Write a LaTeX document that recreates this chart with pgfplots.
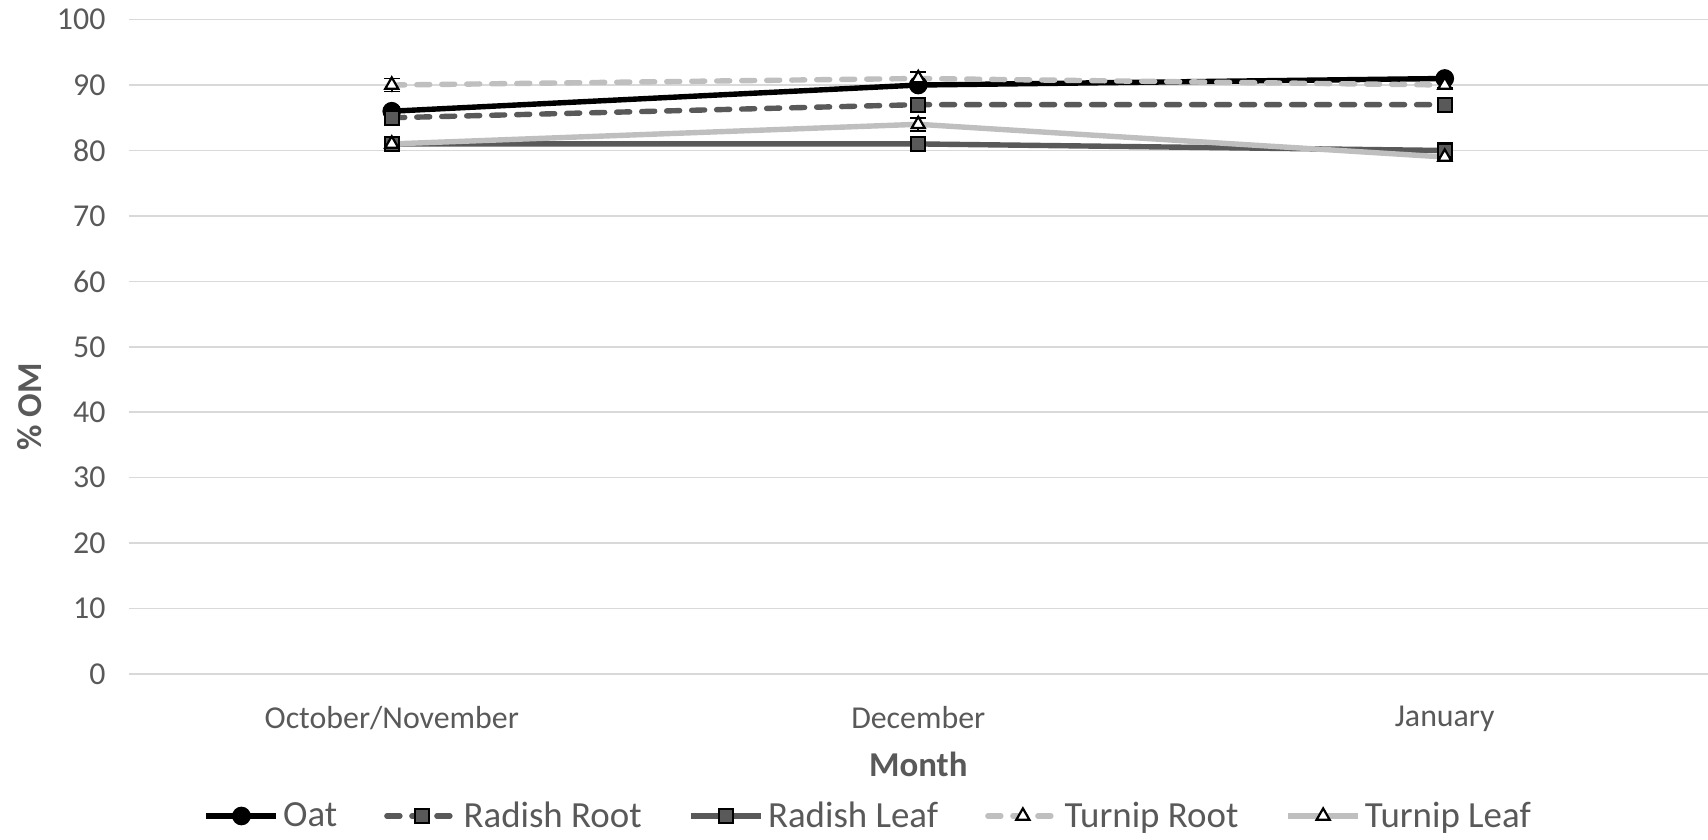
\documentclass[border=0pt]{standalone}
\usepackage{pgfplots}
\pgfplotsset{compat=1.18}
\usepackage{fontspec}
\setmainfont{Carlito}
\definecolor{txt}{HTML}{595959}
\definecolor{dk}{HTML}{595959}
\definecolor{lt}{HTML}{BFBFBF}
\definecolor{gridc}{HTML}{D9D9D9}
\begin{document}
\begin{tikzpicture}
\useasboundingbox (0,0) rectangle (854bp,420bp);
\begin{axis}[
  at={(64.25bp,83bp)}, anchor=south west,
  scale only axis, width=789.75bp, height=327.2bp,
  xmin=-0.5, xmax=2.5, ymin=0, ymax=100,
  xtick={0,1,2}, xticklabels={October/November,December,January},
  ytick={0,10,...,100},
  axis line style={draw=none}, major tick length=0pt,
  ymajorgrids, grid style={gridc, line width=0.8bp},
  tick label style={font=\fontsize{16}{19}\selectfont, text=txt},
  /pgf/number format/assume math mode=true,
  xticklabel style={yshift=-12.5bp},
  yticklabel style={xshift=-8bp},
  xlabel={Month}, ylabel={\% OM},
  every axis x label/.style={at={(axis description cs:0.5,-0.1375)}, anchor=center, font=\fontsize{17.5}{20}\selectfont\bfseries, text=txt},
  every axis y label/.style={at={(axis description cs:-0.0624,0.408)}, rotate=90, anchor=center, font=\fontsize{17.5}{20}\selectfont\bfseries, text=txt},
  legend columns=5,
  legend style={at={(axis description cs:0.469,-0.217)}, anchor=center, draw=none, fill=none,
    font=\fontsize{18.5}{21}\selectfont, text=txt, inner sep=0pt,
    /tikz/every even column/.append style={column sep=21.5bp}},
  legend image code/.code={\draw[mark repeat=2,mark phase=2] plot coordinates {(0bp,0bp) (17.5bp,0bp) (35bp,0bp)};},
  error bars/y dir=both, error bars/y explicit,
  error bars/error bar style={black, line width=0.9bp, solid},
  error bars/error mark options={rotate=90, black, mark size=4bp, line width=0.9bp, solid},
  every axis plot/.append style={line width=2.7bp},
]
\addplot[black, mark=*, mark size=3.3bp, mark options={solid, black}]
  coordinates {(0,86) +- (0,0.6) (1,90) +- (0,0.5) (2,91) +- (0,0.6)};
\addlegendentry{Oat}
\addplot[dk, dash pattern=on 6.5bp off 6bp, line cap=round, mark=square*, mark size=3.5bp, mark options={solid, fill=dk, draw=black, line width=1.1bp}]
  coordinates {(0,85) +- (0,0.4) (1,87) +- (0,0.3) (2,87) +- (0,0.3)};
\addlegendentry{Radish Root}
\addplot[dk, mark=square*, mark size=3.5bp, mark options={solid, fill=dk, draw=black, line width=1.1bp}]
  coordinates {(0,81) +- (0,0.3) (1,81) +- (0,0.3) (2,80) +- (0,0.4)};
\addlegendentry{Radish Leaf}
\addplot[lt, dash pattern=on 6.5bp off 6bp, line cap=round, mark=triangle*, mark size=3.8bp, mark options={solid, fill=white, draw=black, line width=1.1bp}]
  coordinates {(0,90) +- (0,1) (1,91) +- (0,1) (2,90) +- (0,0.5)};
\addlegendentry{Turnip Root}
\addplot[lt, mark=triangle*, mark size=3.8bp, mark options={solid, fill=white, draw=black, line width=1.1bp}]
  coordinates {(0,81) +- (0,0.5) (1,84) +- (0,1) (2,79) +- (0,0.5)};
\addlegendentry{Turnip Leaf}
\end{axis}
\end{tikzpicture}
\end{document}
